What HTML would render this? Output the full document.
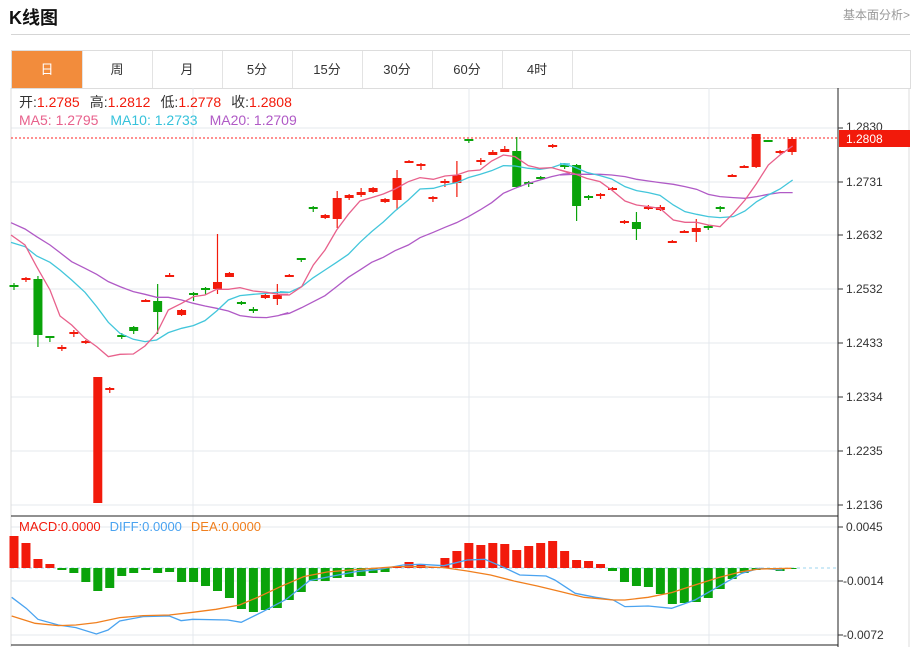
<!DOCTYPE html>
<html><head><meta charset="utf-8"><style>
body{margin:0;width:916px;height:647px;background:#fff;overflow:hidden;font-family:"Liberation Sans","Noto Sans CJK SC",sans-serif;position:relative}
.h{position:absolute;left:9px;top:4px;font-size:18px;font-weight:bold;color:#111}
.r{position:absolute;right:6px;top:6px;font-size:12px;color:#999}
.ln{position:absolute;left:11px;top:34px;width:899px;height:1px;background:#d5d5d5}
.tabs{position:absolute;left:11px;top:50px;width:898px;height:37px;border:1px solid #ddd;border-bottom:1px solid #ddd}
.tab{position:absolute;top:0;height:37px;width:70px;border-right:1px solid #e3e3e3;text-align:center;line-height:37px;font-size:13px;color:#333}
</style></head><body>
<div class="h">K线图</div><div class="r">基本面分析&gt;</div><div class="ln"></div>
<div class="tabs">
<div class="tab" style="left:0;background:#f28c3c;color:#fff">日</div>
<div class="tab" style="left:70px">周</div><div class="tab" style="left:140px">月</div>
<div class="tab" style="left:210px">5分</div><div class="tab" style="left:280px">15分</div>
<div class="tab" style="left:350px">30分</div><div class="tab" style="left:420px">60分</div>
<div class="tab" style="left:490px">4时</div>
</div>
<svg width="916" height="647" style="position:absolute;left:0;top:0" font-family="Liberation Sans, Noto Sans CJK SC, sans-serif">
<g stroke="#e4e9ee" stroke-width="1">
<line x1="11" y1="128" x2="838" y2="128"/><line x1="11" y1="182" x2="838" y2="182"/><line x1="11" y1="235" x2="838" y2="235"/><line x1="11" y1="289" x2="838" y2="289"/><line x1="11" y1="343" x2="838" y2="343"/><line x1="11" y1="397" x2="838" y2="397"/><line x1="11" y1="451" x2="838" y2="451"/><line x1="11" y1="505" x2="838" y2="505"/>
<line x1="11" y1="527" x2="838" y2="527"/><line x1="11" y1="581" x2="838" y2="581"/><line x1="11" y1="635" x2="838" y2="635"/>
<line x1="193" y1="88" x2="193" y2="645"/><line x1="469" y1="88" x2="469" y2="645"/><line x1="709" y1="88" x2="709" y2="645"/>
</g>
<line x1="11" y1="88" x2="11" y2="647" stroke="#ddd"/>
<line x1="909" y1="88" x2="909" y2="647" stroke="#ddd"/>
<line x1="838" y1="88" x2="838" y2="647" stroke="#222"/>
<line x1="11" y1="516" x2="838" y2="516" stroke="#222"/>
<line x1="11" y1="645" x2="838" y2="645" stroke="#222"/>
<g font-size="12" fill="#333">
<text x="846" y="131">1.2830</text><text x="846" y="186">1.2731</text><text x="846" y="239">1.2632</text><text x="846" y="293">1.2532</text><text x="846" y="347">1.2433</text><text x="846" y="401">1.2334</text><text x="846" y="455">1.2235</text><text x="846" y="509">1.2136</text>
<text x="846" y="531">0.0045</text><text x="843" y="585">-0.0014</text><text x="843" y="639">-0.0072</text>
</g>
<g stroke="#333"><line x1="838" y1="128" x2="843" y2="128"/><line x1="838" y1="182" x2="843" y2="182"/><line x1="838" y1="235" x2="843" y2="235"/><line x1="838" y1="289" x2="843" y2="289"/><line x1="838" y1="343" x2="843" y2="343"/><line x1="838" y1="397" x2="843" y2="397"/><line x1="838" y1="451" x2="843" y2="451"/><line x1="838" y1="505" x2="843" y2="505"/><line x1="838" y1="527" x2="843" y2="527"/><line x1="838" y1="581" x2="843" y2="581"/><line x1="838" y1="635" x2="843" y2="635"/></g>
<line x1="11" y1="138" x2="838" y2="138" stroke="#f22" stroke-dasharray="2,2"/>
<rect x="839" y="130" width="71" height="17" fill="#f21a0b"/><text x="846" y="143" font-size="12" fill="#fff">1.2808</text>
<g font-size="14">
<text x="19" y="107"><tspan fill="#333">开:</tspan><tspan fill="#f21a0b">1.2785</tspan><tspan fill="#333" dx="10">高:</tspan><tspan fill="#f21a0b">1.2812</tspan><tspan fill="#333" dx="10">低:</tspan><tspan fill="#f21a0b">1.2778</tspan><tspan fill="#333" dx="10">收:</tspan><tspan fill="#f21a0b">1.2808</tspan></text>
<text x="19" y="125"><tspan fill="#e8618c">MA5: 1.2795</tspan><tspan fill="#36c2db" dx="12">MA10: 1.2733</tspan><tspan fill="#b05ac6" dx="12">MA20: 1.2709</tspan></text>
<text x="19" y="531" font-size="13"><tspan fill="#f21a0b">MACD:0.0000</tspan><tspan fill="#4aa3f0" dx="9">DIFF:0.0000</tspan><tspan fill="#f07f1e" dx="9">DEA:0.0000</tspan></text>
</g>
<g id="c"></g>
<g fill="none" stroke-width="1.3">
<g transform="translate(0,130) scale(0.3333)"><polyline vector-effect="non-scaling-stroke" stroke="#b05ac6" points="33,278 75,297 110,320 150,345 180,368 215,395 255,415 290,433 325,455 360,470 400,485 435,493 470,502 505,502 545,510 580,520 615,528 650,535 685,543 720,557 760,562 800,563 835,557 865,548"/>
<polyline vector-effect="non-scaling-stroke" stroke="#43c6db" points="33,337 75,350 110,378 150,397 180,420 215,450 255,487 290,530 325,577 360,610 400,628 435,635 470,630 505,608 545,595 580,587 615,572 650,543 685,510 720,497 760,493 800,490 835,487 865,487"/>
<polyline vector-effect="non-scaling-stroke" stroke="#e8618c" points="33,315 75,345 110,410 150,480 180,558 215,585 255,625 290,650 325,680 360,673 400,672 435,648 470,610 505,540 545,520 580,500 615,495 650,478 685,478 720,473 760,483 800,487 835,493 865,493"/></g>
<g transform="translate(280,125) scale(0.3333)"><polyline vector-effect="non-scaling-stroke" stroke="#b05ac6" points="0,570 28,565 65,548 100,530 135,512 170,485 205,457 240,435 275,412 310,397 345,377 385,360 420,338 460,322 495,307 530,293 565,275 600,255 635,233 670,205 705,190 745,175 780,165 815,155 850,147 870,146"/>
<polyline vector-effect="non-scaling-stroke" stroke="#43c6db" points="0,500 28,502 65,485 100,458 135,435 170,412 205,388 240,352 275,320 310,291 345,258 385,225 420,192 460,190 495,180 530,173 565,158 600,148 635,137 670,122 705,123 745,130 780,133 815,128 850,116 870,117"/>
<polyline vector-effect="non-scaling-stroke" stroke="#e8618c" points="0,510 28,510 65,485 100,420 135,375 170,315 205,268 240,228 275,218 310,207 345,192 385,170 420,158 460,163 495,153 530,150 565,138 600,135 635,108 670,90 705,95 745,122 780,130 815,128 850,138 870,145"/></g>
<g transform="translate(560,125) scale(0.3333)"><polyline vector-effect="non-scaling-stroke" stroke="#b05ac6" points="0,150 40,148 80,148 120,148 155,150 195,155 230,163 265,168 300,173 340,178 375,185 410,193 445,208 480,215 520,218 555,220 590,215 625,208 660,203 698,203"/>
<polyline vector-effect="non-scaling-stroke" stroke="#43c6db" points="0,115 40,125 80,142 120,152 155,162 195,185 230,197 265,203 300,211 340,240 375,260 410,268 445,275 480,278 520,275 555,258 590,230 625,210 660,192 698,165"/>
<polyline vector-effect="non-scaling-stroke" stroke="#e8618c" points="0,135 40,145 80,160 120,170 155,195 195,228 230,240 265,245 300,250 340,285 375,292 410,292 445,300 480,305 520,265 555,225 590,175 625,120 660,90 698,63"/></g>
</g>
<line x1="11" y1="568" x2="838" y2="568" stroke="#9cd4ef" stroke-dasharray="3,3"/>
<g id="m"></g>
<g fill="none" stroke-width="1.3" transform="translate(0,510) scale(0.584,0.3333)">
<polyline vector-effect="non-scaling-stroke" stroke="#4aa3f0" points="20,262 45,295 65,328 100,345 130,353 165,372 185,360 205,333 245,320 290,318 310,332 330,328 390,330 413,337 450,305 490,268 530,212 570,198 610,185 650,178 690,165 720,163 760,167 800,150 830,148 860,170 890,195 935,198 950,210 985,250 1020,262 1050,270 1070,290 1110,288 1150,295 1190,270 1230,230 1270,190 1300,175 1340,180"/>
<polyline vector-effect="non-scaling-stroke" stroke="#f07f1e" points="20,318 60,340 100,347 130,345 165,338 205,323 245,317 290,315 330,307 370,298 410,285 440,263 480,230 520,200 560,186 600,180 640,175 680,170 720,170 760,173 800,183 840,195 880,213 920,228 960,245 1000,262 1050,270 1070,270 1110,262 1150,248 1190,225 1230,203 1270,185 1300,177 1355,175"/>
</g>
</svg>
<script>
var C=[["g",285,287,283,290],["r",278,280,277,282],["g",279,335,276,347],["g",336,337,336,342],["r",347,349,345,351],["r",332,333,330,337],["r",341,343,340,344],["r",377,503,377,503],["r",388,389,387,393],["g",335,336,333,339],["g",327,331,326,334],["r",300,301,299,302],["g",301,312,284,334],["r",275,277,273,277],["r",310,315,309,316],["g",293,294,292,301],["g",288,290,287,295],["r",282,289,234,294],["r",273,277,272,277],["g",302,303,301,305],["g",309,310,307,313],["r",295,298,294,299],["r",295,299,284,305],["r",275,276,274,277],["g",258,260,258,262],["g",207,208,206,212],["r",215,218,214,219],["r",198,219,191,228],["r",195,198,194,200],["r",192,195,188,197],["r",188,192,187,193],["r",199,202,198,203],["r",178,200,170,210],["r",161,162,160,163],["r",164,166,163,170],["r",197,199,196,202],["r",181,182,179,187],["r",175,183,161,197],["g",139,140,139,143],["r",160,161,158,165],["r",152,155,150,155],["r",149,152,146,152],["g",151,187,137,188],["g",182,184,181,187],["g",177,178,176,180],["r",145,146,144,148],["g",165,166,163,169],["g",165,206,164,221],["g",196,198,195,200],["r",194,196,193,199],["r",188,190,187,191],["r",221,223,220,224],["g",222,229,212,240],["r",207,209,205,210],["r",207,210,205,211],["r",241,242,240,243],["r",231,232,230,233],["r",228,232,219,242],["g",226,227,225,230],["g",207,208,206,212],["r",175,176,174,177],["r",166,167,165,168],["r",134,167,134,168],["g",140,141,140,142],["r",151,152,150,154],["r",139,152,137,155]];
var M=[536,543,559,564,570,573,582,591,588,576,573,570,573,572,582,582,586,591,598,609,612,610,608,600,592,581,581,578,577,576,573,572,567,562,564,567,558,551,543,545,543,544,550,546,543,541,551,560,561,564,571,582,586,587,594,604,603,602,598,589,579,573,570,569,571,569];
var s="";
C.forEach(function(c,i){var x=14+i*11.97,col=c[0]=="r"?"#f21a0b":"#0aa30a";
s+='<line x1="'+x+'" x2="'+x+'" y1="'+c[3]+'" y2="'+c[4]+'" stroke="'+col+'" stroke-width="1.2"/>';
s+='<rect x="'+(x-4.5)+'" y="'+c[1]+'" width="9" height="'+Math.max(2,c[2]-c[1])+'" fill="'+col+'"/>';});
document.getElementById("c").innerHTML=s;s="";
M.forEach(function(v,i){var x=14+i*11.97,col=v<568?"#f21a0b":"#0aa30a",y=Math.min(v,568),h=Math.max(1,Math.abs(v-568));
s+='<rect x="'+(x-4.5)+'" y="'+y+'" width="9" height="'+h+'" fill="'+col+'"/>';});
document.getElementById("m").innerHTML=s;
</script>
</body></html>
